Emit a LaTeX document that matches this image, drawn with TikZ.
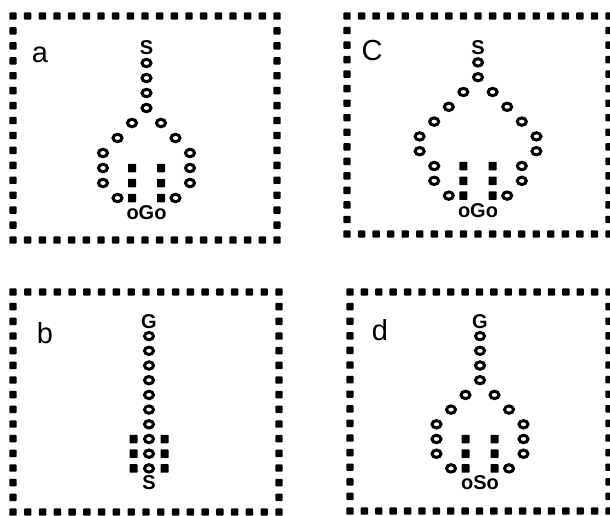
\documentclass[tikz,border=0pt]{standalone}
\usepackage{fontspec}
\setmainfont{Liberation Sans}
\usetikzlibrary{shapes.geometric}
\tikzset{
  bsq/.style={rectangle, fill=black, minimum width=7.4pt, minimum height=7.4pt, inner sep=0pt, rounded corners=0.9pt},
  lsq/.style={rectangle, fill=black, minimum width=8pt, minimum height=8.5pt, inner sep=0pt, rounded corners=0.6pt},
  ring/.style={ellipse, draw=black, line width=3pt, minimum width=9pt, minimum height=7.4pt, inner sep=0pt},
  chr/.style={inner sep=0pt, font=\fontsize{20}{20}\selectfont\bfseries},
  plabel/.style={inner sep=0pt, anchor=base, font=\fontsize{29}{29}\selectfont},
}
% border of dotted squares: #1 name, #2 xl, #3 xr, #4 yt, #5 yb
\newcommand\panelborder[5]{%
  \foreach \i in {0,...,18}{
    \node[bsq] (#1t\i) at ({#2+(#3-#2)*\i/18},#4) {};
    \node[bsq] (#1b\i) at ({#2+(#3-#2)*\i/18},#5) {};
  }
  \foreach \j in {1,...,14}{
    \node[bsq] (#1l\j) at (#2,{#4+(#5-#4)*\j/15}) {};
    \node[bsq] (#1r\j) at (#3,{#4+(#5-#4)*\j/15}) {};
  }
}
% loop of panels a and d: #1 name, #2 stem x, #3 y0, #4 dy, #5 dx, #6 top letter, #7 bottom letter
\newcommand\roundloop[7]{%
  \node[chr] (#1top) at (#2,{#3+2*#4}) {#6};
  \foreach \r in {3,...,6}
    \node[ring] (#1s\r) at (#2,{#3+\r*#4}) {};
  \foreach \r/\k in {7/1,8/2,9/3,10/3,11/3,12/2}{
    \node[ring] (#1L\r) at ({#2-\k*#5},{#3+\r*#4}) {};
    \node[ring] (#1R\r) at ({#2+\k*#5},{#3+\r*#4}) {};
  }
  \foreach \r in {10,11,12}{
    \node[lsq] (#1q\r) at ({#2-#5},{#3+\r*#4}) {};
    \node[lsq] (#1Q\r) at ({#2+#5},{#3+\r*#4}) {};
  }
  \node[chr] (#1bot) at (#2,{#3+13*#4}) {o#7o};
}
\begin{document}
\begin{tikzpicture}[x=1pt,y=-1pt]
\useasboundingbox (0,0) rectangle (610,515);
\fill[white] (0,0) rectangle (610,515);

% ---------- panel a ----------
\panelborder{a}{13}{277}{16}{240}
\node[plabel] (la) at (40,62) {a};
\roundloop{pa}{146.5}{18}{15}{14.5}{S}{G}

% ---------- panel c ----------
\panelborder{c}{347}{609}{16}{234}
\node[plabel] (lc) at (372,60) {C};
\node[chr] (pctop) at (478,{18+2*14.8}) {S};
\foreach \r in {3,4}
  \node[ring] (pcs\r) at (478,{18+\r*14.8}) {};
\foreach \r/\k in {5/1,6/2,7/3,8/4,9/4,10/3,11/3,12/2}{
  \node[ring] (pcL\r) at ({478-\k*14.6},{18+\r*14.8}) {};
  \node[ring] (pcR\r) at ({478+\k*14.6},{18+\r*14.8}) {};
}
\foreach \r in {10,11,12}{
  \node[lsq] (pcq\r) at ({478-14.6},{18+\r*14.8}) {};
  \node[lsq] (pcQ\r) at ({478+14.6},{18+\r*14.8}) {};
}
\node[chr] (pcbot) at (478,{18+13*14.8}) {oGo};

% ---------- panel b ----------
\panelborder{b}{13}{279}{292}{512}
\node[plabel] (lb) at (45,343) {b};
\node[chr] (pbtop) at (149,{292+2*14.7}) {G};
\foreach \r in {3,...,12}
  \node[ring] (pbs\r) at (149,{292+\r*14.7}) {};
\foreach \r in {10,11,12}{
  \node[lsq] (pbq\r) at ({149-15.5},{292+\r*14.7}) {};
  \node[lsq] (pbQ\r) at ({149+15.5},{292+\r*14.7}) {};
}
\node[chr] (pbbot) at (149,{292+13*14.7}) {S};

% ---------- panel d ----------
\panelborder{d}{350}{609}{292}{511}
\node[plabel] (ld) at (380,340) {d};
\roundloop{pd}{480}{292}{14.7}{14.5}{G}{S}
\end{tikzpicture}
\end{document}
